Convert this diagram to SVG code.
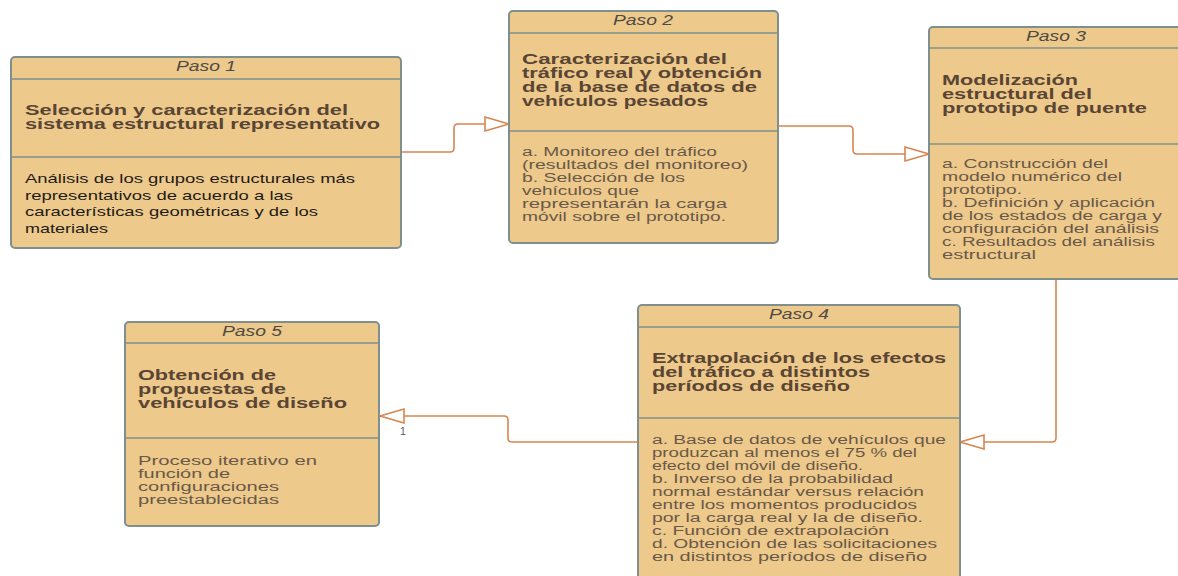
<svg xmlns="http://www.w3.org/2000/svg" width="1178" height="576" viewBox="0 0 1178 576">
<defs>
<style>
.box{fill:#EDC98B;stroke:#7E8F8E;stroke-width:2}
.sep{stroke:#7E8F8E;stroke-width:1.6}
.hdr{font-family:"Liberation Sans",Arial,sans-serif;font-style:italic;font-size:14.5px;fill:#4f4a45;text-anchor:middle}
.ttl{font-family:"Liberation Sans",Arial,sans-serif;font-weight:bold;font-size:14.5px;fill:#5a4534}
.bdy{font-family:"Liberation Sans",Arial,sans-serif;font-size:12.5px;fill:#6a5848}
.bdk{font-family:"Liberation Sans",Arial,sans-serif;font-size:13.5px;fill:#1f1b17}
.conn{fill:none;stroke:#D7854F;stroke-width:1.6}
.lbl{font-family:"Liberation Sans",Arial,sans-serif;font-size:10.5px;fill:#5a5a5a}
</style>
<marker id="tri" viewBox="0 0 27 18" refX="25" refY="9" markerWidth="27" markerHeight="18" markerUnits="userSpaceOnUse" orient="auto">
<path d="M1,2 L25,9 L1,16 Z" fill="#ffffff" stroke="#D7854F" stroke-width="1.6"/>
</marker>
</defs>
<rect width="1178" height="576" fill="#ffffff"/>

<g id="connectors">
<path class="conn" d="M401,152 H450 Q454,152 454,148 V128 Q454,124 458,124 H509" marker-end="url(#tri)"/>
<path class="conn" d="M778,126 H849 Q853,126 853,130 V150 Q853,154 857,154 H929" marker-end="url(#tri)"/>
<path class="conn" d="M1056,279 V438 Q1056,442 1052,442 H960" marker-end="url(#tri)"/>
<path class="conn" d="M638,442 H512 Q508,442 508,438 V420 Q508,416 504,416 H380" marker-end="url(#tri)"/>
<text class="lbl" x="400" y="435">1</text>
</g>

<g id="paso1">
<rect class="box" x="11" y="57" width="390" height="191" rx="4"/>
<line class="sep" x1="11" y1="79" x2="401" y2="79"/>
<line class="sep" x1="11" y1="157" x2="401" y2="157"/>
<text class="hdr" x="206" y="71" textLength="60" lengthAdjust="spacingAndGlyphs">Paso 1</text>
<text class="ttl" x="25" y="115" textLength="323" lengthAdjust="spacingAndGlyphs">Selección y caracterización del</text>
<text class="ttl" x="25" y="129" textLength="355" lengthAdjust="spacingAndGlyphs">sistema estructural representativo</text>
<text class="bdk" x="25" y="183" textLength="330" lengthAdjust="spacingAndGlyphs">Análisis de los grupos estructurales más</text>
<text class="bdk" x="25" y="199.5" textLength="268" lengthAdjust="spacingAndGlyphs">representativos de acuerdo a las</text>
<text class="bdk" x="25" y="216" textLength="293" lengthAdjust="spacingAndGlyphs">características geométricas y de los</text>
<text class="bdk" x="25" y="232.5" textLength="83" lengthAdjust="spacingAndGlyphs">materiales</text>
</g>

<g id="paso2">
<rect class="box" x="509" y="11" width="269" height="232" rx="4"/>
<line class="sep" x1="509" y1="33" x2="778" y2="33"/>
<line class="sep" x1="509" y1="131" x2="778" y2="131"/>
<text class="hdr" x="643" y="25" textLength="60" lengthAdjust="spacingAndGlyphs">Paso 2</text>
<text class="ttl" x="522" y="64" textLength="205" lengthAdjust="spacingAndGlyphs">Caracterización del</text>
<text class="ttl" x="522" y="78" textLength="240" lengthAdjust="spacingAndGlyphs">tráfico real y obtención</text>
<text class="ttl" x="522" y="92" textLength="235" lengthAdjust="spacingAndGlyphs">de la base de datos de</text>
<text class="ttl" x="522" y="106" textLength="186" lengthAdjust="spacingAndGlyphs">vehículos pesados</text>
<text class="bdy" x="522" y="156" textLength="195" lengthAdjust="spacingAndGlyphs">a. Monitoreo del tráfico</text>
<text class="bdy" x="522" y="169" textLength="226" lengthAdjust="spacingAndGlyphs">(resultados del monitoreo)</text>
<text class="bdy" x="522" y="182" textLength="163" lengthAdjust="spacingAndGlyphs">b. Selección de los</text>
<text class="bdy" x="522" y="195" textLength="117" lengthAdjust="spacingAndGlyphs">vehículos que</text>
<text class="bdy" x="522" y="208" textLength="205" lengthAdjust="spacingAndGlyphs">representarán la carga</text>
<text class="bdy" x="522" y="221" textLength="204" lengthAdjust="spacingAndGlyphs">móvil sobre el prototipo.</text>
</g>

<g id="paso3">
<rect class="box" x="929" y="27" width="262" height="252" rx="4"/>
<line class="sep" x1="929" y1="48" x2="1191" y2="48"/>
<line class="sep" x1="929" y1="144" x2="1191" y2="144"/>
<text class="hdr" x="1056" y="41" textLength="60" lengthAdjust="spacingAndGlyphs">Paso 3</text>
<text class="ttl" x="942" y="85" textLength="136" lengthAdjust="spacingAndGlyphs">Modelización</text>
<text class="ttl" x="942" y="99" textLength="150" lengthAdjust="spacingAndGlyphs">estructural del</text>
<text class="ttl" x="942" y="113" textLength="205" lengthAdjust="spacingAndGlyphs">prototipo de puente</text>
<text class="bdy" x="942" y="168" textLength="166" lengthAdjust="spacingAndGlyphs">a. Construcción del</text>
<text class="bdy" x="942" y="181" textLength="180" lengthAdjust="spacingAndGlyphs">modelo numérico del</text>
<text class="bdy" x="942" y="194" textLength="80" lengthAdjust="spacingAndGlyphs">prototipo.</text>
<text class="bdy" x="942" y="207" textLength="213" lengthAdjust="spacingAndGlyphs">b. Definición y aplicación</text>
<text class="bdy" x="942" y="220" textLength="220" lengthAdjust="spacingAndGlyphs">de los estados de carga y</text>
<text class="bdy" x="942" y="233" textLength="217" lengthAdjust="spacingAndGlyphs">configuración del análisis</text>
<text class="bdy" x="942" y="246" textLength="213" lengthAdjust="spacingAndGlyphs">c. Resultados del análisis</text>
<text class="bdy" x="942" y="259" textLength="94" lengthAdjust="spacingAndGlyphs">estructural</text>
</g>

<g id="paso4">
<rect class="box" x="638" y="305" width="322" height="290" rx="4"/>
<line class="sep" x1="638" y1="327" x2="960" y2="327"/>
<line class="sep" x1="638" y1="418" x2="960" y2="418"/>
<text class="hdr" x="799" y="319" textLength="60" lengthAdjust="spacingAndGlyphs">Paso 4</text>
<text class="ttl" x="652" y="363" textLength="294" lengthAdjust="spacingAndGlyphs">Extrapolación de los efectos</text>
<text class="ttl" x="652" y="377" textLength="218" lengthAdjust="spacingAndGlyphs">del tráfico a distintos</text>
<text class="ttl" x="652" y="391" textLength="198" lengthAdjust="spacingAndGlyphs">períodos de diseño</text>
<text class="bdy" x="652" y="444" textLength="294" lengthAdjust="spacingAndGlyphs">a. Base de datos de vehículos que</text>
<text class="bdy" x="652" y="457" textLength="265" lengthAdjust="spacingAndGlyphs">produzcan al menos el 75 % del</text>
<text class="bdy" x="652" y="470" textLength="211" lengthAdjust="spacingAndGlyphs">efecto del móvil de diseño.</text>
<text class="bdy" x="652" y="483" textLength="241" lengthAdjust="spacingAndGlyphs">b. Inverso de la probabilidad</text>
<text class="bdy" x="652" y="496" textLength="272" lengthAdjust="spacingAndGlyphs">normal estándar versus relación</text>
<text class="bdy" x="652" y="509" textLength="265" lengthAdjust="spacingAndGlyphs">entre los momentos producidos</text>
<text class="bdy" x="652" y="522" textLength="271" lengthAdjust="spacingAndGlyphs">por la carga real y la de diseño.</text>
<text class="bdy" x="652" y="535" textLength="237" lengthAdjust="spacingAndGlyphs">c. Función de extrapolación</text>
<text class="bdy" x="652" y="548" textLength="285" lengthAdjust="spacingAndGlyphs">d. Obtención de las solicitaciones</text>
<text class="bdy" x="652" y="561" textLength="275" lengthAdjust="spacingAndGlyphs">en distintos períodos de diseño</text>
</g>

<g id="paso5">
<rect class="box" x="125" y="322" width="254" height="204" rx="4"/>
<line class="sep" x1="125" y1="343" x2="379" y2="343"/>
<line class="sep" x1="125" y1="438" x2="379" y2="438"/>
<text class="hdr" x="252" y="336" textLength="60" lengthAdjust="spacingAndGlyphs">Paso 5</text>
<text class="ttl" x="138" y="380" textLength="138" lengthAdjust="spacingAndGlyphs">Obtención de</text>
<text class="ttl" x="138" y="394" textLength="148" lengthAdjust="spacingAndGlyphs">propuestas de</text>
<text class="ttl" x="138" y="408" textLength="209" lengthAdjust="spacingAndGlyphs">vehículos de diseño</text>
<text class="bdy" x="138" y="465" textLength="179" lengthAdjust="spacingAndGlyphs">Proceso iterativo en</text>
<text class="bdy" x="138" y="478" textLength="92" lengthAdjust="spacingAndGlyphs">función de</text>
<text class="bdy" x="138" y="491" textLength="141" lengthAdjust="spacingAndGlyphs">configuraciones</text>
<text class="bdy" x="138" y="504" textLength="141" lengthAdjust="spacingAndGlyphs">preestablecidas</text>
</g>
</svg>
